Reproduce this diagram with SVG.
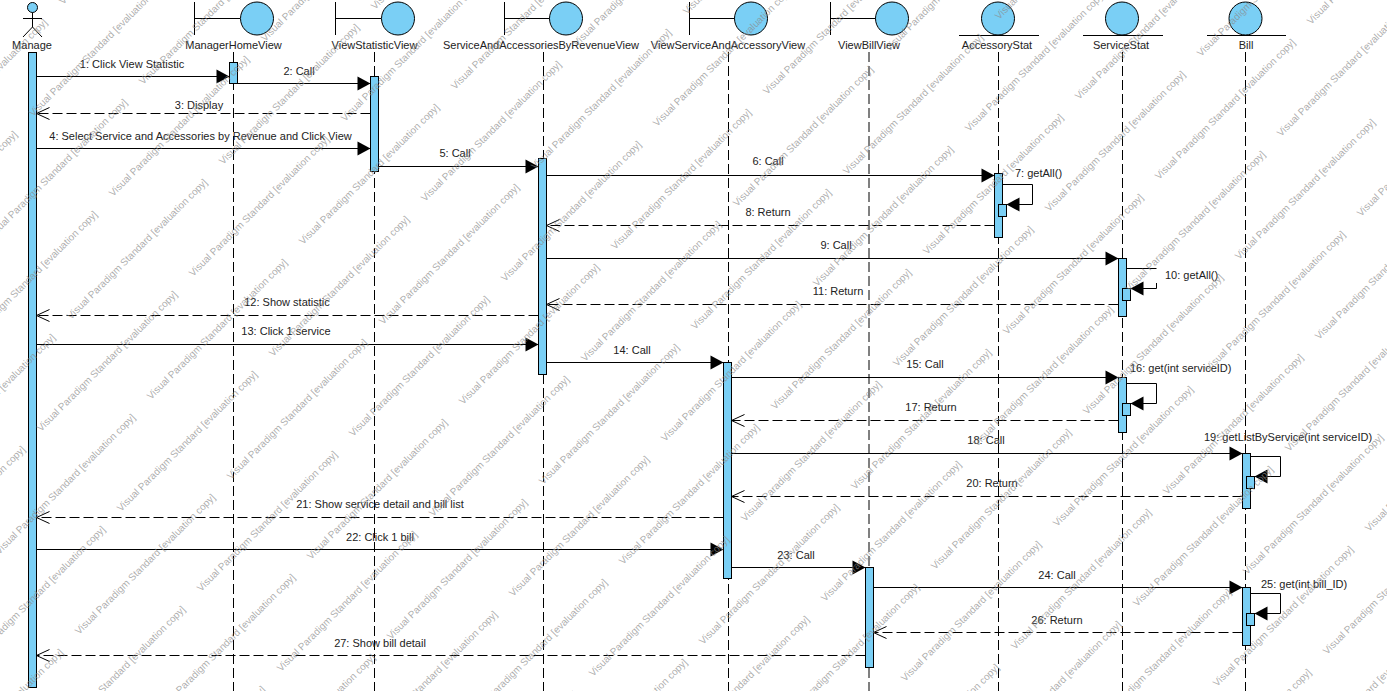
<svg xmlns="http://www.w3.org/2000/svg" width="1387" height="691" viewBox="0 0 1387 691">
<style>
text{font-family:"Liberation Sans",Arial,sans-serif;font-size:11px;fill:#222}
.n{text-anchor:middle}
.s{fill:#7acff5;stroke:#000;stroke-width:1}
.i{fill:none;stroke:#000;stroke-width:1}
.l{fill:none;stroke:#000;stroke-width:1;stroke-dasharray:10 4}
.m{fill:none;stroke:#000;stroke-width:1;marker-end:url(#f)}
.r{fill:none;stroke:#000;stroke-width:1;stroke-dasharray:10 4;marker-end:url(#o)}
.w{font-size:10px;fill:#8a8a8a;fill-opacity:.7}
</style>
<defs>
<marker id="f" markerUnits="userSpaceOnUse" markerWidth="16" markerHeight="16" refX="14" refY="8" orient="auto"><path d="M1 1L14 8L1 15Z" fill="#000"/></marker>
<marker id="o" markerUnits="userSpaceOnUse" markerWidth="16" markerHeight="16" refX="14" refY="8" orient="auto"><path d="M1 2L14 8L1 14" fill="none" stroke="#000"/></marker>
</defs>
<rect width="1387" height="691" fill="#fff"/>
<g id="lifelines">
<path class="l" d="M233.500 52V691"/><path class="l" d="M374.500 52V691"/><path class="l" d="M543.500 52V691"/><path class="l" d="M728.500 52V691"/><path class="l" d="M869 52V691"/><path class="l" d="M998.500 52V691"/><path class="l" d="M1122.500 52V691"/><path class="l" d="M1245.500 52V691"/>
</g>
<g id="node-manage">
<circle class="s" cx="32.500" cy="7.500" r="5"/><path class="i" d="M32.500 12.500V27M23 18.500H42M23 37L32.500 27L42 37"/>
<text class="n" x="32" y="49">Manage</text>
<rect class="s" x="28.500" y="52.500" width="8" height="635"/>
</g>
<g id="node-managerhomeview">
<path class="i" d="M194.500 2V35M194.500 18.500H240"/><circle class="s" cx="257" cy="18.500" r="16.500"/>
<text class="n" x="233.500" y="49">ManagerHomeView</text>
<rect class="s" x="229.500" y="62.500" width="8" height="21"/>
</g>
<g id="node-viewstatisticview">
<path class="i" d="M335.500 2V35M335.500 18.500H381"/><circle class="s" cx="398" cy="18.500" r="16.500"/>
<text class="n" x="374.500" y="49">ViewStatisticView</text>
<rect class="s" x="370.500" y="76.500" width="8" height="95"/>
</g>
<g id="node-serviceandaccessoriesbyrevenueview">
<path class="i" d="M504.500 2V35M504.500 18.500H550"/><circle class="s" cx="566" cy="18.500" r="16.500"/>
<text class="n" x="541" y="49">ServiceAndAccessoriesByRevenueView</text>
<rect class="s" x="538.500" y="158.500" width="8" height="216"/>
</g>
<g id="node-viewserviceandaccessoryview">
<path class="i" d="M689.500 2V35M689.500 18.500H735"/><circle class="s" cx="751" cy="18.500" r="16.500"/>
<text class="n" x="728" y="49">ViewServiceAndAccessoryView</text>
<rect class="s" x="723.500" y="362.500" width="8" height="216"/>
</g>
<g id="node-viewbillview">
<path class="i" d="M830.500 2V35M830.500 18.500H876"/><circle class="s" cx="892" cy="18.500" r="16.500"/>
<text class="n" x="869" y="49">ViewBillView</text>
<rect class="s" x="865.500" y="567.500" width="8" height="100"/>
</g>
<g id="node-accessorystat">
<circle class="s" cx="998" cy="18.500" r="16.500"/><path class="i" d="M959 35.500H1039"/>
<text class="n" x="997" y="49">AccessoryStat</text>
<rect class="s" x="994.500" y="173.500" width="8" height="64"/><rect class="s" x="998.500" y="204.500" width="8" height="12"/>
</g>
<g id="node-servicestat">
<circle class="s" cx="1122" cy="18.500" r="16.500"/><path class="i" d="M1083 35.500H1163"/>
<text class="n" x="1121" y="49">ServiceStat</text>
<rect class="s" x="1118.500" y="258.500" width="8" height="58"/><rect class="s" x="1122.500" y="288.500" width="8" height="12"/>
<rect class="s" x="1118.500" y="377.500" width="8" height="55"/><rect class="s" x="1122.500" y="403.500" width="8" height="12"/>
</g>
<g id="node-bill">
<circle class="s" cx="1245.500" cy="18.500" r="16.500"/><path class="i" d="M1207 35.500H1286"/>
<text class="n" x="1246" y="49">Bill</text>
<rect class="s" x="1242.500" y="453.500" width="8" height="55"/><rect class="s" x="1246.500" y="476.500" width="8" height="12"/>
<rect class="s" x="1242.500" y="587.500" width="8" height="58"/><rect class="s" x="1246.500" y="613.500" width="8" height="12"/>
</g>
<g id="connectors">
<path class="m" d="M36.500 76.500H229.500"/><text class="n" x="132" y="68">1: Click View Statistic</text>
<path class="m" d="M237.500 83.500H370.500"/><text class="n" x="299" y="75">2: Call</text>
<path class="r" d="M370.500 113.500H36.500"/><text class="n" x="199" y="109">3: Display</text>
<path class="m" d="M36.500 148.500H370.500"/><text class="n" x="200.500" y="140">4: Select Service and Accessories by Revenue and Click View</text>
<path class="m" d="M378.500 166.500H538.500"/><text class="n" x="455" y="157">5: Call</text>
<path class="m" d="M546.500 175.500H994.500"/><text class="n" x="768" y="165">6: Call</text>
<path class="m" d="M1002.500 184.500H1032.500V204.500H1006.500"/><text x="1015" y="177">7: getAll()</text>
<path class="r" d="M994.500 225.500H546.500"/><text class="n" x="768" y="216">8: Return</text>
<path class="m" d="M546.500 258.500H1118.500"/><text class="n" x="836" y="249">9: Call</text>
<path class="i" d="M1126.500 268.500H1156.500"/><path class="m" d="M1156.500 283V288.500H1130.500"/><text x="1165" y="279">10: getAll()</text>
<path class="r" d="M1118.500 304.500H546.500"/><text class="n" x="838" y="295">11: Return</text>
<path class="r" d="M538.500 315.500H36.500"/><text class="n" x="287" y="306">12: Show statistic</text>
<path class="m" d="M36.500 344.500H538.500"/><text class="n" x="286" y="335">13: Click 1 service</text>
<path class="m" d="M546.500 362.500H723.500"/><text class="n" x="632" y="354">14: Call</text>
<path class="m" d="M731.500 377.500H1118.500"/><text class="n" x="925" y="368">15: Call</text>
<path class="m" d="M1126.500 383.500H1156.500V403.500H1130.500"/><text x="1130" y="372">16: get(int serviceID)</text>
<path class="r" d="M1118.500 420.500H731.500"/><text class="n" x="931" y="411">17: Return</text>
<path class="m" d="M731.500 453.500H1242.500"/><text class="n" x="986" y="444">18: Call</text>
<path class="m" d="M1250.500 456.500H1280.500V476.500H1254.500"/><text x="1204" y="441">19: getListByService(int serviceID)</text>
<path class="r" d="M1242.500 496.500H731.500"/><text class="n" x="992" y="487">20: Return</text>
<path class="r" d="M723.500 517.500H36.500"/><text class="n" x="380" y="508">21: Show service detail and bill list</text>
<path class="m" d="M36.500 549.500H723.500"/><text class="n" x="380" y="541">22: Click 1 bill</text>
<path class="m" d="M731.500 567.500H865.500"/><text class="n" x="796" y="559">23: Call</text>
<path class="m" d="M873.500 587.500H1242.500"/><text class="n" x="1057" y="579">24: Call</text>
<path class="m" d="M1250.500 593.500H1280.500V613.500H1254.500"/><text x="1261" y="588">25: get(int bill_ID)</text>
<path class="r" d="M1242.500 632.500H873.500"/><text class="n" x="1057" y="624">26: Return</text>
<path class="r" d="M865.500 655.500H36.500"/><text class="n" x="380" y="647">27: Show bill detail</text>
</g>
<g id="watermark">
<text class="w" transform="translate(-81 475) rotate(-45)">Visual Paradigm Standard [evaluation copy]</text>
<text class="w" transform="translate(-1 555) rotate(-45)">Visual Paradigm Standard [evaluation copy]</text>
<text class="w" transform="translate(79 635) rotate(-45)">Visual Paradigm Standard [evaluation copy]</text>
<text class="w" transform="translate(159 715) rotate(-45)">Visual Paradigm Standard [evaluation copy]</text>
<text class="w" transform="translate(239 795) rotate(-45)">Visual Paradigm Standard [evaluation copy]</text>
<text class="w" transform="translate(-73 790) rotate(-45)">Visual Paradigm Standard [evaluation copy]</text>
<text class="w" transform="translate(-89 160) rotate(-45)">Visual Paradigm Standard [evaluation copy]</text>
<text class="w" transform="translate(-9 240) rotate(-45)">Visual Paradigm Standard [evaluation copy]</text>
<text class="w" transform="translate(71 320) rotate(-45)">Visual Paradigm Standard [evaluation copy]</text>
<text class="w" transform="translate(151 400) rotate(-45)">Visual Paradigm Standard [evaluation copy]</text>
<text class="w" transform="translate(231 480) rotate(-45)">Visual Paradigm Standard [evaluation copy]</text>
<text class="w" transform="translate(311 560) rotate(-45)">Visual Paradigm Standard [evaluation copy]</text>
<text class="w" transform="translate(391 640) rotate(-45)">Visual Paradigm Standard [evaluation copy]</text>
<text class="w" transform="translate(471 720) rotate(-45)">Visual Paradigm Standard [evaluation copy]</text>
<text class="w" transform="translate(551 800) rotate(-45)">Visual Paradigm Standard [evaluation copy]</text>
<text class="w" transform="translate(63 5) rotate(-45)">Visual Paradigm Standard [evaluation copy]</text>
<text class="w" transform="translate(143 85) rotate(-45)">Visual Paradigm Standard [evaluation copy]</text>
<text class="w" transform="translate(223 165) rotate(-45)">Visual Paradigm Standard [evaluation copy]</text>
<text class="w" transform="translate(303 245) rotate(-45)">Visual Paradigm Standard [evaluation copy]</text>
<text class="w" transform="translate(383 325) rotate(-45)">Visual Paradigm Standard [evaluation copy]</text>
<text class="w" transform="translate(463 405) rotate(-45)">Visual Paradigm Standard [evaluation copy]</text>
<text class="w" transform="translate(543 485) rotate(-45)">Visual Paradigm Standard [evaluation copy]</text>
<text class="w" transform="translate(623 565) rotate(-45)">Visual Paradigm Standard [evaluation copy]</text>
<text class="w" transform="translate(703 645) rotate(-45)">Visual Paradigm Standard [evaluation copy]</text>
<text class="w" transform="translate(783 725) rotate(-45)">Visual Paradigm Standard [evaluation copy]</text>
<text class="w" transform="translate(863 805) rotate(-45)">Visual Paradigm Standard [evaluation copy]</text>
<text class="w" transform="translate(375 10) rotate(-45)">Visual Paradigm Standard [evaluation copy]</text>
<text class="w" transform="translate(455 90) rotate(-45)">Visual Paradigm Standard [evaluation copy]</text>
<text class="w" transform="translate(535 170) rotate(-45)">Visual Paradigm Standard [evaluation copy]</text>
<text class="w" transform="translate(615 250) rotate(-45)">Visual Paradigm Standard [evaluation copy]</text>
<text class="w" transform="translate(695 330) rotate(-45)">Visual Paradigm Standard [evaluation copy]</text>
<text class="w" transform="translate(775 410) rotate(-45)">Visual Paradigm Standard [evaluation copy]</text>
<text class="w" transform="translate(855 490) rotate(-45)">Visual Paradigm Standard [evaluation copy]</text>
<text class="w" transform="translate(935 570) rotate(-45)">Visual Paradigm Standard [evaluation copy]</text>
<text class="w" transform="translate(1015 650) rotate(-45)">Visual Paradigm Standard [evaluation copy]</text>
<text class="w" transform="translate(1095 730) rotate(-45)">Visual Paradigm Standard [evaluation copy]</text>
<text class="w" transform="translate(1175 810) rotate(-45)">Visual Paradigm Standard [evaluation copy]</text>
<text class="w" transform="translate(687 15) rotate(-45)">Visual Paradigm Standard [evaluation copy]</text>
<text class="w" transform="translate(767 95) rotate(-45)">Visual Paradigm Standard [evaluation copy]</text>
<text class="w" transform="translate(847 175) rotate(-45)">Visual Paradigm Standard [evaluation copy]</text>
<text class="w" transform="translate(927 255) rotate(-45)">Visual Paradigm Standard [evaluation copy]</text>
<text class="w" transform="translate(1007 335) rotate(-45)">Visual Paradigm Standard [evaluation copy]</text>
<text class="w" transform="translate(1087 415) rotate(-45)">Visual Paradigm Standard [evaluation copy]</text>
<text class="w" transform="translate(1167 495) rotate(-45)">Visual Paradigm Standard [evaluation copy]</text>
<text class="w" transform="translate(1247 575) rotate(-45)">Visual Paradigm Standard [evaluation copy]</text>
<text class="w" transform="translate(1327 655) rotate(-45)">Visual Paradigm Standard [evaluation copy]</text>
<text class="w" transform="translate(999 20) rotate(-45)">Visual Paradigm Standard [evaluation copy]</text>
<text class="w" transform="translate(1079 100) rotate(-45)">Visual Paradigm Standard [evaluation copy]</text>
<text class="w" transform="translate(1159 180) rotate(-45)">Visual Paradigm Standard [evaluation copy]</text>
<text class="w" transform="translate(1239 260) rotate(-45)">Visual Paradigm Standard [evaluation copy]</text>
<text class="w" transform="translate(1319 340) rotate(-45)">Visual Paradigm Standard [evaluation copy]</text>
<text class="w" transform="translate(1311 25) rotate(-45)">Visual Paradigm Standard [evaluation copy]</text>
<text class="w" transform="translate(-119 272) rotate(-45)">Visual Paradigm Standard [evaluation copy]</text>
<text class="w" transform="translate(-39 352) rotate(-45)">Visual Paradigm Standard [evaluation copy]</text>
<text class="w" transform="translate(41 432) rotate(-45)">Visual Paradigm Standard [evaluation copy]</text>
<text class="w" transform="translate(121 512) rotate(-45)">Visual Paradigm Standard [evaluation copy]</text>
<text class="w" transform="translate(201 592) rotate(-45)">Visual Paradigm Standard [evaluation copy]</text>
<text class="w" transform="translate(281 672) rotate(-45)">Visual Paradigm Standard [evaluation copy]</text>
<text class="w" transform="translate(361 752) rotate(-45)">Visual Paradigm Standard [evaluation copy]</text>
<text class="w" transform="translate(441 832) rotate(-45)">Visual Paradigm Standard [evaluation copy]</text>
<text class="w" transform="translate(33 117) rotate(-45)">Visual Paradigm Standard [evaluation copy]</text>
<text class="w" transform="translate(113 197) rotate(-45)">Visual Paradigm Standard [evaluation copy]</text>
<text class="w" transform="translate(193 277) rotate(-45)">Visual Paradigm Standard [evaluation copy]</text>
<text class="w" transform="translate(273 357) rotate(-45)">Visual Paradigm Standard [evaluation copy]</text>
<text class="w" transform="translate(353 437) rotate(-45)">Visual Paradigm Standard [evaluation copy]</text>
<text class="w" transform="translate(433 517) rotate(-45)">Visual Paradigm Standard [evaluation copy]</text>
<text class="w" transform="translate(513 597) rotate(-45)">Visual Paradigm Standard [evaluation copy]</text>
<text class="w" transform="translate(593 677) rotate(-45)">Visual Paradigm Standard [evaluation copy]</text>
<text class="w" transform="translate(673 757) rotate(-45)">Visual Paradigm Standard [evaluation copy]</text>
<text class="w" transform="translate(753 837) rotate(-45)">Visual Paradigm Standard [evaluation copy]</text>
<text class="w" transform="translate(265 42) rotate(-45)">Visual Paradigm Standard [evaluation copy]</text>
<text class="w" transform="translate(345 122) rotate(-45)">Visual Paradigm Standard [evaluation copy]</text>
<text class="w" transform="translate(425 202) rotate(-45)">Visual Paradigm Standard [evaluation copy]</text>
<text class="w" transform="translate(505 282) rotate(-45)">Visual Paradigm Standard [evaluation copy]</text>
<text class="w" transform="translate(585 362) rotate(-45)">Visual Paradigm Standard [evaluation copy]</text>
<text class="w" transform="translate(665 442) rotate(-45)">Visual Paradigm Standard [evaluation copy]</text>
<text class="w" transform="translate(745 522) rotate(-45)">Visual Paradigm Standard [evaluation copy]</text>
<text class="w" transform="translate(825 602) rotate(-45)">Visual Paradigm Standard [evaluation copy]</text>
<text class="w" transform="translate(905 682) rotate(-45)">Visual Paradigm Standard [evaluation copy]</text>
<text class="w" transform="translate(985 762) rotate(-45)">Visual Paradigm Standard [evaluation copy]</text>
<text class="w" transform="translate(577 47) rotate(-45)">Visual Paradigm Standard [evaluation copy]</text>
<text class="w" transform="translate(657 127) rotate(-45)">Visual Paradigm Standard [evaluation copy]</text>
<text class="w" transform="translate(737 207) rotate(-45)">Visual Paradigm Standard [evaluation copy]</text>
<text class="w" transform="translate(817 287) rotate(-45)">Visual Paradigm Standard [evaluation copy]</text>
<text class="w" transform="translate(897 367) rotate(-45)">Visual Paradigm Standard [evaluation copy]</text>
<text class="w" transform="translate(977 447) rotate(-45)">Visual Paradigm Standard [evaluation copy]</text>
<text class="w" transform="translate(1057 527) rotate(-45)">Visual Paradigm Standard [evaluation copy]</text>
<text class="w" transform="translate(1137 607) rotate(-45)">Visual Paradigm Standard [evaluation copy]</text>
<text class="w" transform="translate(1217 687) rotate(-45)">Visual Paradigm Standard [evaluation copy]</text>
<text class="w" transform="translate(1297 767) rotate(-45)">Visual Paradigm Standard [evaluation copy]</text>
<text class="w" transform="translate(889 52) rotate(-45)">Visual Paradigm Standard [evaluation copy]</text>
<text class="w" transform="translate(969 132) rotate(-45)">Visual Paradigm Standard [evaluation copy]</text>
<text class="w" transform="translate(1049 212) rotate(-45)">Visual Paradigm Standard [evaluation copy]</text>
<text class="w" transform="translate(1129 292) rotate(-45)">Visual Paradigm Standard [evaluation copy]</text>
<text class="w" transform="translate(1209 372) rotate(-45)">Visual Paradigm Standard [evaluation copy]</text>
<text class="w" transform="translate(1289 452) rotate(-45)">Visual Paradigm Standard [evaluation copy]</text>
<text class="w" transform="translate(1369 532) rotate(-45)">Visual Paradigm Standard [evaluation copy]</text>
<text class="w" transform="translate(1201 57) rotate(-45)">Visual Paradigm Standard [evaluation copy]</text>
<text class="w" transform="translate(1281 137) rotate(-45)">Visual Paradigm Standard [evaluation copy]</text>
<text class="w" transform="translate(1361 217) rotate(-45)">Visual Paradigm Standard [evaluation copy]</text>
<text class="w" transform="translate(-111 587) rotate(-45)">Visual Paradigm Standard [evaluation copy]</text>
<text class="w" transform="translate(-31 667) rotate(-45)">Visual Paradigm Standard [evaluation copy]</text>
<text class="w" transform="translate(49 747) rotate(-45)">Visual Paradigm Standard [evaluation copy]</text>
<text class="w" transform="translate(129 827) rotate(-45)">Visual Paradigm Standard [evaluation copy]</text>
</g>
</svg>
